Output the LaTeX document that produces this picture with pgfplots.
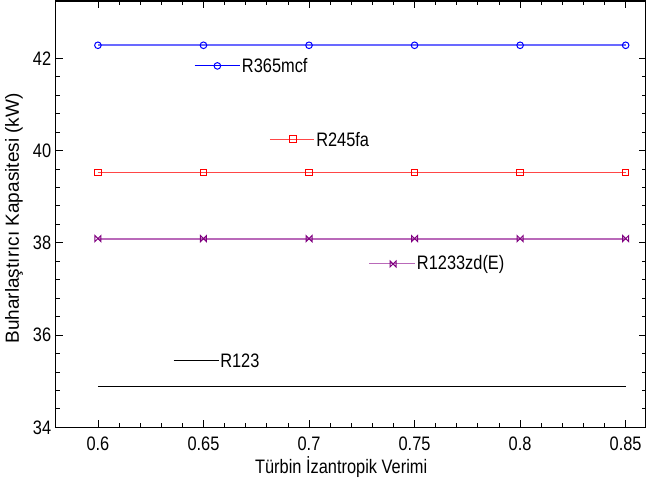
\documentclass[border=0pt]{standalone}
\usepackage{fontspec}
\setmainfont{Liberation Sans}[FakeStretch=0.84]
\newfontfamily\ylabfont{Liberation Sans}
\usepackage{pgfplots}
\pgfplotsset{compat=1.18}
\usetikzlibrary{calc}
\definecolor{bline}{RGB}{105,105,255}
\definecolor{rline}{RGB}{255,70,70}
\definecolor{pline}{RGB}{185,105,185}
\definecolor{pmark}{RGB}{128,0,128}
\pgfdeclareplotmark{bowtie}{%
  \pgfpathmoveto{\pgfqpoint{-\pgfplotmarksize}{\pgfplotmarksize}}%
  \pgfpathlineto{\pgfqpoint{\pgfplotmarksize}{-\pgfplotmarksize}}%
  \pgfpathlineto{\pgfqpoint{\pgfplotmarksize}{\pgfplotmarksize}}%
  \pgfpathlineto{\pgfqpoint{-\pgfplotmarksize}{-\pgfplotmarksize}}%
  \pgfpathclose\pgfusepathqstroke}
\begin{document}
\begin{tikzpicture}
\begin{axis}[name=ax,
  scale only axis, width=589.8pt, height=426.3pt,
  xmin=0.58, xmax=0.8594, ymin=34, ymax=43.24,
  axis line style={line width=1.1pt},
  xtick={0.6,0.65,0.7,0.75,0.8,0.85},
  xticklabels={0.6,0.65,0.7,0.75,0.8,0.85},
  ytick={34,36,38,40,42},
  minor x tick num=4, minor y tick num=4,
  tick align=inside, tick pos=both,
  major tick length=7pt, minor tick length=4pt,
  every tick/.style={black, line width=0.8pt},
  /pgf/number format/assume math mode=true,
  tick label style={font=\fontsize{19.5}{21}\selectfont},
  xticklabel style={yshift=-6.5pt},
  yticklabel style={xshift=-1pt},
  xlabel={Türbin İzantropik Verimi},
  ylabel={\ylabfont Buharlaştırıcı Kapasitesi (kW)},
  xlabel style={font=\fontsize{19.5}{21}\selectfont, at={(axis description cs:0.484,-0.0925)}, anchor=center},
  ylabel style={font=\fontsize{19}{21}\selectfont, at={(axis description cs:-0.0707,0.49)}, anchor=center, rotate=0},
  clip=false,
]
% main series
\addplot[bline, line width=1.8pt, mark=o, mark size=3.3pt, mark options={blue, fill=white, line width=1pt}]
  coordinates {(0.60,42.28) (0.65,42.28) (0.70,42.28) (0.75,42.28) (0.80,42.28) (0.85,42.28)};
\addplot[rline, line width=1.4pt, mark=square, mark size=3.3pt, mark options={red, fill=white, line width=1pt}]
  coordinates {(0.60,39.52) (0.65,39.52) (0.70,39.52) (0.75,39.52) (0.80,39.52) (0.85,39.52)};
\addplot[pline, line width=1.8pt, mark=bowtie, mark size=3pt, mark options={pmark, line width=1pt}]
  coordinates {(0.60,38.09) (0.65,38.09) (0.70,38.09) (0.75,38.09) (0.80,38.09) (0.85,38.09)};
\addplot[black, line width=1pt]
  coordinates {(0.60,34.88) (0.85,34.88)};
% inline legend entries
\addplot[blue, line width=1pt] coordinates {(0.6458,41.833) (0.6672,41.833)};
\addplot[blue, only marks, mark=o, mark size=3.3pt, mark options={fill=white, line width=1pt}] coordinates {(0.6566,41.833)};
\node[anchor=west, inner xsep=2pt, font=\fontsize{19.5}{21}\selectfont] at (axis cs:0.6672,41.833) {R365mcf};
\addplot[rline, line width=1pt] coordinates {(0.6814,40.244) (0.7024,40.244)};
\addplot[red, only marks, mark=square, mark size=3.3pt, mark options={fill=white, line width=1pt}] coordinates {(0.6924,40.244)};
\node[anchor=west, inner xsep=2pt, font=\fontsize{19.5}{21}\selectfont] at (axis cs:0.7024,40.244) {R245fa};
\addplot[pline, line width=1pt] coordinates {(0.7285,37.54) (0.7501,37.54)};
\addplot[pmark, only marks, mark=bowtie, mark size=3pt, mark options={line width=1pt}] coordinates {(0.7398,37.54)};
\node[anchor=west, inner xsep=2pt, font=\fontsize{19.5}{21}\selectfont] at (axis cs:0.7501,37.54) {R1233zd(E)};
\addplot[black, line width=0.8pt] coordinates {(0.6359,35.44) (0.6574,35.44)};
\node[anchor=west, inner xsep=1pt, font=\fontsize{19.5}{21}\selectfont] at (axis cs:0.6574,35.44) {R123};
\end{axis}
\pgfresetboundingbox
\path[use as bounding box] ($(ax.south west)+(-55.7pt,-57.7pt)$) rectangle ($(ax.north east)+(0.5pt,1pt)$);
\end{tikzpicture}
\end{document}
